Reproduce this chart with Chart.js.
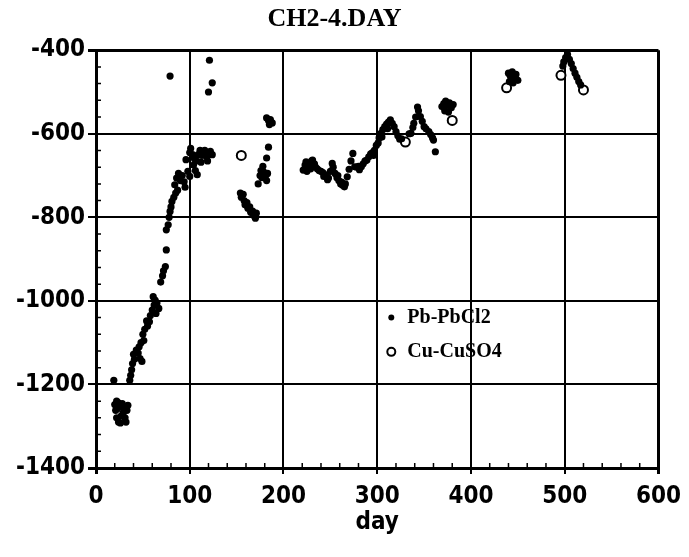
<!DOCTYPE html>
<html>
<head>
<meta charset="utf-8">
<script src="https://cdn.jsdelivr.net/npm/chart.js@4.4.1/dist/chart.umd.min.js"></script>
<style>
  html, body { margin: 0; padding: 0; background: #fff; }
  canvas { display: block; }
</style>
</head>
<body>
<canvas id="day-chart" width="689" height="557"></canvas>
<script>
const ctx = document.getElementById('day-chart').getContext('2d');

const xTickValues = [0, 100, 200, 300, 400, 500, 600];
const yTickValues = [-1400, -1200, -1000, -800, -600, -400];

// Pb-PbCl2 (filled dots)
let pbDays = [
  19, 36, 20, 22, 24, 21, 23, 26, 28, 30, 22, 24, 27, 29, 31, 33, 34, 26, 32,
  38, 37, 39, 41, 40, 43, 45, 47, 49, 46, 48, 51, 50, 52, 55, 57, 54, 58, 60, 62, 63, 61, 65, 67, 64,
  69, 71, 72, 74, 75, 75, 77, 78, 79, 80, 81, 83, 85, 87, 84, 86, 88, 90, 92, 94, 95, 96, 98, 100,
  100, 101, 103, 105, 104, 106, 108, 107, 109, 111, 113, 112, 114, 116, 118, 120, 122, 124, 119,
  79, 121, 124, 120,
  154, 155, 157, 158, 159, 161, 162, 164, 165, 167, 168, 170, 171, 173, 175, 176, 177, 178, 179, 181, 182, 183, 182, 184,
  182, 184, 186, 188, 185,
  221, 223, 224, 226, 228, 230, 231, 233, 234, 236, 238, 240, 242, 244, 246, 248, 250, 252, 253, 255, 257, 259,
  261, 263, 265, 266, 268, 270, 272, 274, 276, 278, 280, 283, 285, 287, 289, 291, 293, 295, 297, 299,
  301, 302, 304, 306, 308, 310, 312, 314, 316, 318, 320, 322, 324, 326, 334, 336, 338, 339, 341, 343, 344,
  346, 348, 350, 352, 355, 357, 359, 360, 362,
  225, 229, 243, 247, 258, 262, 281, 296, 305, 311,
  369, 371, 373, 375, 377, 379, 381, 372, 376,
  440, 442, 444, 446, 448, 450, 445, 441,
  503, 501, 499, 498, 505, 507, 509, 511, 513, 515, 517
];
let pbValues = [
  -1190, -1190, -1248, -1240, -1244, -1262, -1258, -1252, -1246, -1258, -1280, -1290, -1275, -1268, -1280, -1262, -1250, -1292, -1290,
  -1165, -1178, -1150, -1140, -1128, -1118, -1125, -1138, -1145, -1110, -1100, -1095, -1080, -1068, -1060, -1050, -1048, -1035, -1022, -1010, -998, -990, -1005, -1018, -1030,
  -955, -940, -928, -918, -878, -830, -818, -800, -786, -775, -762, -752, -742, -735, -722, -706, -695, -712, -700, -715, -728, -662, -690, -702,
  -645, -635, -650, -660, -675, -688, -698, -665, -650, -640, -652, -668, -645, -640, -655, -648, -642, -650, -665,
  -462, -424, -478, -500,
  -742, -752, -745, -760, -770, -765, -778, -775, -788, -785, -795, -802, -790, -720, -700, -688, -705, -678, -692, -700, -712, -695, -658, -632,
  -562, -568, -566, -574, -578,
  -687, -675, -667, -672, -680, -665, -663, -672, -679, -684, -688, -690, -693, -698, -702, -706, -690, -671, -680, -695, -705, -712,
  -720, -723, -727, -720, -703, -685, -665, -647, -679, -680, -678, -679, -672, -665, -663, -655, -648, -645, -640, -628,
  -622, -610, -599, -590, -583, -577, -572, -567, -575, -583, -595, -605, -613, -612, -600, -599, -585, -575, -560, -536, -545,
  -559, -570, -583, -588, -595, -602, -610, -615, -643,
  -690, -684, -702, -710, -700, -716, -686, -652, -608, -588,
  -535, -528, -522, -532, -526, -538, -530, -545, -548,
  -455, -462, -452, -468, -458, -472, -478, -475,
  -410, -418, -428, -438, -422, -432, -444, -455, -465, -475, -483
];

// Cu-CuSO4 (open circles)
let cuDays = [155, 330, 380, 438, 496, 520];
let cuValues = [-652, -620, -568, -490, -460, -495];

function toPoints(xs, ys) {
  return xs.map((x, i) => ({ x: x, y: ys[i] }));
}

const edgeWidth = (c, lo, hi) => (c.tick && (c.tick.value === lo || c.tick.value === hi)) ? 3 : 2;
const tickFont = { family: '"DejaVu Sans Condensed", "DejaVu Sans"', size: 24, weight: 'bold' };

// small inward ticks between the labelled ones + legend inside the plot
const extras = {
  id: 'extras',
  afterDraw(chart) {
    const c = chart.ctx;
    const xs = chart.scales.x, ys = chart.scales.y;
    const area = chart.chartArea;
    c.save();
    c.strokeStyle = '#000';
    c.lineWidth = 1.5;
    c.beginPath();
    for (let d = 0; d <= 600; d += 20) {
      if (d % 100 === 0) continue;
      const px = xs.getPixelForValue(d);
      c.moveTo(px, area.bottom);
      c.lineTo(px, area.bottom - 5);
    }
    for (let v = -1400; v <= -400; v += 40) {
      if (v % 200 === 0) continue;
      const py = ys.getPixelForValue(v);
      c.moveTo(area.left, py);
      c.lineTo(area.left + 5, py);
    }
    c.stroke();

    // legend
    const lx = xs.getPixelForValue(315);
    const ly1 = ys.getPixelForValue(-1040);
    const ly2 = ys.getPixelForValue(-1122);
    c.fillStyle = '#000';
    c.beginPath();
    c.arc(lx, ly1, 3, 0, Math.PI * 2);
    c.fill();
    c.beginPath();
    c.lineWidth = 2;
    c.arc(lx, ly2, 4, 0, Math.PI * 2);
    c.stroke();
    c.font = 'bold 20px "Liberation Serif"';
    c.textBaseline = 'middle';
    c.textAlign = 'left';
    c.fillText('Pb-PbCl2', lx + 16, ly1);
    c.fillText('Cu-CuSO4', lx + 16, ly2);
    c.restore();
  }
};

let dayChart = new Chart(ctx, {
  type: 'scatter',
  data: {
    datasets: [{
      label: 'Pb-PbCl2',
      data: toPoints(pbDays, pbValues),
      backgroundColor: '#000',
      borderWidth: 0,
      pointRadius: 3.6
    }, {
      label: 'Cu-CuSO4',
      data: toPoints(cuDays, cuValues),
      backgroundColor: '#fff',
      borderColor: '#000',
      borderWidth: 2,
      pointRadius: 4.5
    }]
  },
  options: {
    responsive: false,
    animation: false,
    layout: { padding: { left: 0, right: 20, top: 0, bottom: 0 } },
    scales: {
      x: {
        type: 'linear',
        min: 0,
        max: 600,
        afterBuildTicks: axis => { axis.ticks = xTickValues.map(v => ({ value: v })); },
        afterFit: axis => { axis.height = 89; },
        grid: { color: '#000', lineWidth: c => edgeWidth(c, 0, 600), tickLength: 6 },
        border: { color: '#000', width: 3 },
        ticks: {
          color: '#000',
          padding: 8,
          maxRotation: 0,
          callback: v => String(v),
          font: tickFont
        },
        title: {
          display: true,
          text: 'day',
          color: '#000',
          padding: { top: 0, bottom: 20 },
          font: tickFont
        }
      },
      y: {
        type: 'linear',
        min: -1400,
        max: -400,
        afterBuildTicks: axis => { axis.ticks = yTickValues.map(v => ({ value: v })); },
        afterFit: axis => { axis.width = 96; },
        grid: { color: '#000', lineWidth: c => edgeWidth(c, -1400, -400), tickLength: 8 },
        border: { color: '#000', width: 3 },
        ticks: {
          color: '#000',
          padding: 3,
          callback: v => String(v),
          font: tickFont
        }
      }
    },
    plugins: {
      legend: { display: false },
      tooltip: { enabled: false },
      title: {
        display: true,
        text: 'CH2-4.DAY',
        color: '#000',
        padding: { top: 4, bottom: 15 },
        font: { family: '"Liberation Serif"', size: 26, weight: 'bold' }
      }
    }
  },
  plugins: [extras]
});
</script>
</body>
</html>
